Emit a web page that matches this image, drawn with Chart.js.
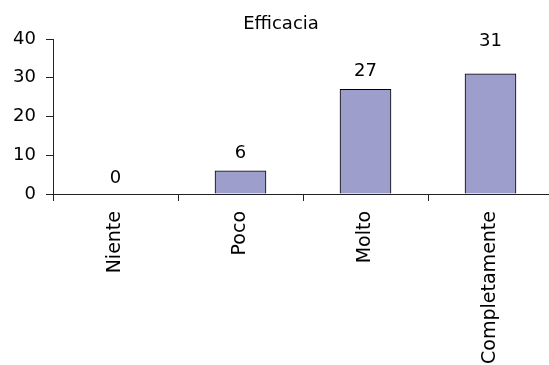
<!DOCTYPE html>
<html>
<head>
<meta charset="utf-8">
<script src="https://cdn.jsdelivr.net/npm/chart.js@4/dist/chart.umd.min.js"></script>
<style>
  html, body { margin: 0; padding: 0; background: #fff; }
  #wrap { width: 549px; height: 365px; overflow: hidden; position: relative; }
  canvas { display: block; }
</style>
</head>
<body>
<div id="wrap"><canvas id="c" width="556" height="365" style="width:556px;height:365px"></canvas></div>
<script>
// Survey answers: how effective it was
const categories = ['Niente', 'Poco', 'Molto', 'Completamente'];
const counts = [0, 6, 27, 31];
const yTicks = [0, 10, 20, 30, 40];

const FAMILY = '"DejaVu Sans", Verdana, sans-serif';
const FONT = { family: FAMILY, size: 18, weight: 'normal', lineHeight: 1.2 };
const CAT_FONT = { family: FAMILY, size: 19, weight: 'normal', lineHeight: 1.2 };

// Value labels above each bar (pixel lift above the bar top)
const valueLabels = {
  id: 'valueLabels',
  afterDatasetsDraw(chart, args, opts) {
    const ctx = chart.ctx;
    const meta = chart.getDatasetMeta(0);
    ctx.save();
    ctx.font = `${FONT.size}px ${FONT.family}`;
    ctx.fillStyle = '#000';
    ctx.textAlign = 'center';
    ctx.textBaseline = 'middle';
    meta.data.forEach((bar, i) => {
      const v = chart.data.datasets[0].data[i];
      const lift = opts.lift[i] ?? 17;
      ctx.fillText(String(v), bar.x, bar.y - lift);
    });
    ctx.restore();
  }
};

new Chart(document.getElementById('c'), {
  type: 'bar',
  data: {
    labels: categories,
    datasets: [{
      data: counts,
      backgroundColor: '#9e9ecc',
      borderColor: '#000',
      borderWidth: 1,
      borderSkipped: 'start',
      barThickness: 51
    }]
  },
  options: {
    responsive: false,
    animation: false,
    devicePixelRatio: 1,
    layout: { padding: { left: 9, right: 3, top: 0, bottom: 0 } },
    plugins: {
      legend: { display: false },
      tooltip: { enabled: false },
      title: {
        display: true,
        text: 'Efficacia',
        color: '#000',
        font: FONT,
        padding: { top: 14, bottom: 3.4 }
      },
      valueLabels: { lift: [16, 17, 18, 33] }
    },
    scales: {
      x: {
        offset: true,
        grid: {
          display: true,
          offset: true,
          drawOnChartArea: false,
          drawTicks: true,
          tickLength: 7,
          color: '#222'
        },
        border: { display: true, color: '#222', width: 1 },
        ticks: {
          color: '#000',
          font: CAT_FONT,
          autoSkip: false,
          minRotation: 90,
          maxRotation: 90,
          padding: 10
        },
        afterFit(scale) { scale.height = 171; }
      },
      y: {
        min: 0,
        max: 40,
        afterBuildTicks(scale) { scale.ticks = yTicks.map(v => ({ value: v })); },
        grid: {
          display: true,
          drawOnChartArea: false,
          drawTicks: true,
          tickLength: 7,
          color: '#222'
        },
        border: { display: true, color: '#222', width: 1 },
        ticks: {
          color: '#000',
          font: FONT,
          padding: 10
        },
        afterFit(scale) { scale.width = 44; }
      }
    }
  },
  plugins: [valueLabels]
});
</script>
</body>
</html>
